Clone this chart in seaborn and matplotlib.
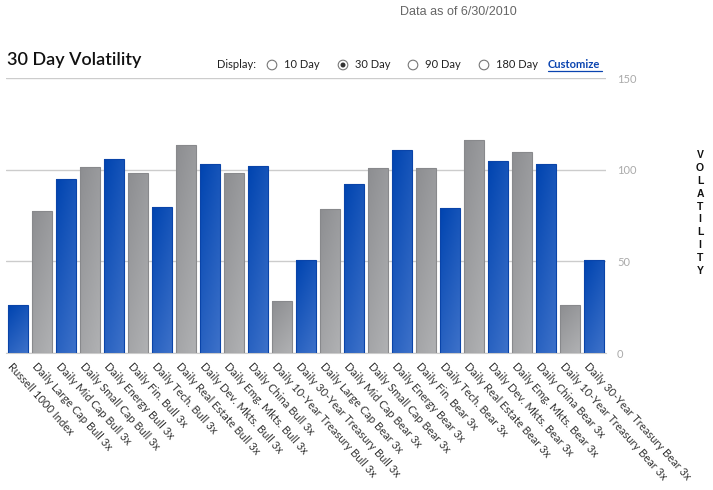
import matplotlib
matplotlib.use("Agg")
import numpy as np
import pandas as pd
import matplotlib.pyplot as plt
import matplotlib.transforms as mtransforms
from matplotlib.colors import to_rgb
import seaborn as sns

# data
funds = ["Russell 1000 Index", "Daily Large Cap Bull 3x", "Daily Mid Cap Bull 3x",
         "Daily Small Cap Bull 3x", "Daily Energy Bull 3x", "Daily Fin. Bull 3x",
         "Daily Tech. Bull 3x", "Daily Real Estate Bull 3x", "Daily Dev. Mkts. Bull 3x",
         "Daily Emg. Mkts. Bull 3x", "Daily China Bull 3x", "Daily 10-Year Treasury Bull 3x",
         "Daily 30-Year Treasury Bull 3x", "Daily Large Cap Bear 3x", "Daily Mid Cap Bear 3x",
         "Daily Small Cap Bear 3x", "Daily Energy Bear 3x", "Daily Fin. Bear 3x",
         "Daily Tech. Bear 3x", "Daily Real Estate Bear 3x", "Daily Dev. Mkts. Bear 3x",
         "Daily Emg. Mkts. Bear 3x", "Daily China Bear 3x", "Daily 10-Year Treasury Bear 3x",
         "Daily 30-Year Treasury Bear 3x"]
volatility = [26.1, 77.7, 95.1, 101.6, 106.0, 98.4, 79.9, 113.6, 103.3, 98.4, 102.2, 28.3,
              50.5, 78.8, 92.4, 101.1, 110.9, 101.1, 79.3, 116.3, 104.9, 109.8, 103.3, 26.1,
              50.5]
y_ticks = [0, 50, 100, 150]

blue_grad = ("#0044b0", "#3d71c9")
gray_grad = ("#8d8e91", "#b0b1b3")
palette = ["#0a4bb8" if i % 2 == 0 else "#9a9b9e" for i in range(len(funds))]

df = pd.DataFrame({"fund": funds, "vol": volatility})

sns.set_style("white")
plt.rcParams["font.family"] = ["Lato", "DejaVu Sans"]

W, H = 713, 490
fig = plt.figure(figsize=(W / 100, H / 100), dpi=100)
ax = fig.add_axes([6 / W, 1 - 353 / H, 600 / W, (353 - 78) / H])

sns.barplot(data=df, x="fund", y="vol", hue="fund", palette=palette, legend=False,
            width=0.81, ax=ax, saturation=1)

# gradient fill for each bar
n = 32
rr, cc = np.mgrid[0:n, 0:n] / (n - 1)
t = (0.35 * cc + 0.65 * rr)[..., None]
for i, p in enumerate(ax.patches):
    c0, c1 = blue_grad if i % 2 == 0 else gray_grad
    img = np.array(to_rgb(c0)) * (1 - t) + np.array(to_rgb(c1)) * t
    x0, y0 = p.get_x(), p.get_y()
    x1, y1 = x0 + p.get_width(), y0 + p.get_height()
    im = ax.imshow(img, extent=[x0, x1, y0, y1], aspect="auto", origin="upper",
                   zorder=2, interpolation="bilinear")
    im.set_clip_path(p)
    p.set_facecolor("none")
    p.set_edgecolor("#0a44a8" if i % 2 == 0 else "#88898c")
    p.set_linewidth(0.8)
    p.set_zorder(3)

ax.set_xlim(-0.5, len(funds) - 0.5)
ax.set_ylim(0, 150)
ax.set_yticks(y_ticks)
ax.yaxis.tick_right()
ax.tick_params(axis="y", length=0, pad=8, labelsize=8, labelcolor="#aaaaaa")
ax.tick_params(axis="x", length=0, pad=2)
ax.yaxis.grid(True, color="#cccccc", lw=1)
ax.set_axisbelow(True)
for s in ["left", "right", "top"]:
    ax.spines[s].set_visible(False)
ax.spines["bottom"].set_color("#cccccc")
ax.set_xlabel("")
ax.set_ylabel("")

ax.set_xticks(range(len(funds)))
ax.set_xticklabels(funds, rotation=-48, ha="left", va="top", rotation_mode="anchor",
                   fontsize=8, color="#333333")
off = mtransforms.ScaledTranslation(-4 / 100, -5 / 100, fig.dpi_scale_trans)
for lab in ax.get_xticklabels():
    lab.set_transform(lab.get_transform() + off)

# header texts
fig.text(400 / W, 1 - 12 / H, "Data as of 6/30/2010", fontsize=9, color="#666666",
         family=["Liberation Sans", "DejaVu Sans"], va="center", ha="left")
fig.text(7 / W, 1 - 60 / H, "30 Day Volatility", fontsize=13, fontweight="semibold",
         color="#111111", va="center", ha="left")
row_y = 1 - 65 / H
fig.text(217 / W, row_y, "Display:", fontsize=8, color="#222222", va="center")
opts = [("10 Day", 272), ("30 Day", 343), ("90 Day", 413), ("180 Day", 484)]
for k, (lbl, px) in enumerate(opts):
    cx, cy = px / 100, (H - 65) / 100
    fig.add_artist(plt.Circle((cx, cy), 0.048, transform=fig.dpi_scale_trans,
                              facecolor="white", edgecolor="#777777", lw=0.8))
    if k == 1:
        fig.add_artist(plt.Circle((cx, cy), 0.025, transform=fig.dpi_scale_trans,
                                  facecolor="#333333", edgecolor="none"))
    fig.text((px + 12) / W, row_y, lbl, fontsize=8, color="#222222", va="center")
cust = fig.text(548 / W, row_y, "Customize", fontsize=8, color="#0a44b0",
                fontweight="bold", va="center")
fig.add_artist(plt.Line2D([548 / W, 602 / W], [1 - 71 / H, 1 - 71 / H],
                          color="#0a44b0", lw=0.9, transform=fig.transFigure))

fig.text(700 / W, 1 - 213 / H, "\n".join("VOLATILITY"), fontsize=7.5, fontweight="bold",
         family=["Liberation Sans", "DejaVu Sans"], ha="center", va="center",
         linespacing=1.35, color="#111111")

fig.savefig("out.png", dpi=100)
